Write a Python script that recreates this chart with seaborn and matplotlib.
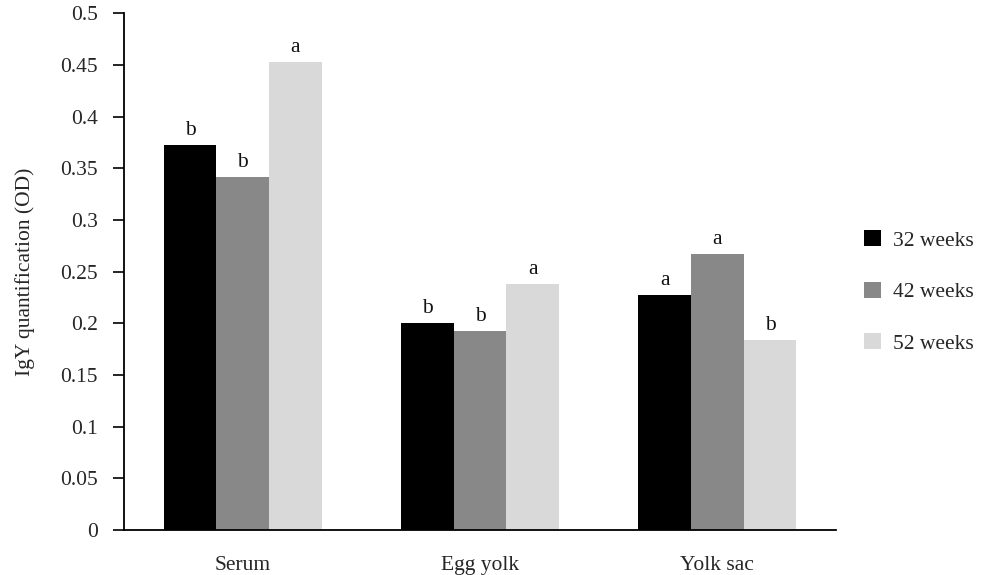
import matplotlib
matplotlib.use("Agg")
import matplotlib.pyplot as plt
import seaborn as sns
import pandas as pd

tissues = ["Serum", "Egg yolk", "Yolk sac"]
ages = ["32 weeks", "42 weeks", "52 weeks"]
values_32 = [0.373, 0.200, 0.227]
values_42 = [0.342, 0.193, 0.267]
values_52 = [0.453, 0.238, 0.184]
letters_32 = ["b", "b", "a"]
letters_42 = ["b", "b", "a"]
letters_52 = ["a", "a", "b"]
colors = ["#000000", "#888888", "#d9d9d9"]
yticks = [0, 0.05, 0.1, 0.15, 0.2, 0.25, 0.3, 0.35, 0.4, 0.45, 0.5]
ytick_labels = ["0", "0.05", "0.1", "0.15", "0.2", "0.25", "0.3", "0.35", "0.4", "0.45", "0.5"]

rows = []
for age, vals in zip(ages, [values_32, values_42, values_52]):
    for t, v in zip(tissues, vals):
        rows.append({"tissue": t, "age": age, "value": v})
df = pd.DataFrame(rows)

sns.set_theme(style="white")
plt.rcParams["font.family"] = ["Liberation Serif", "DejaVu Serif"]
FS = 15.5

fig = plt.figure(figsize=(9.84, 5.75), dpi=100)
ax = fig.add_axes([124 / 984, 1 - 530 / 575, (836 - 124) / 984, (530 - 13.3) / 575])

sns.barplot(data=df, x="tissue", y="value", hue="age", order=tissues, hue_order=ages,
            palette=colors, width=0.665, saturation=1, gap=0, ax=ax, legend=True,
            edgecolor="none", linewidth=0)

ax.set_xlim(-0.5, 2.5)
ax.set_ylim(0, 0.5)
ax.set_yticks(yticks)
ax.set_yticklabels(ytick_labels, fontsize=FS)
ax.tick_params(axis="y", direction="out", length=8, width=1.2, color="black", pad=11, left=True)
ax.tick_params(axis="x", length=0, pad=19, labelsize=FS)
for lab in ax.get_xticklabels():
    lab.set_fontsize(FS)
ax.set_xlabel("")
ax.set_ylabel("IgY quantification (OD)", fontsize=FS, labelpad=18)

for s in ["top", "right"]:
    ax.spines[s].set_visible(False)
for s in ["left", "bottom"]:
    ax.spines[s].set_color("black")
    ax.spines[s].set_linewidth(1.3)

for cont, lets in zip(ax.containers, [letters_32, letters_42, letters_52]):
    for bar, let in zip(cont, lets):
        ax.annotate(let, (bar.get_x() + bar.get_width() / 2, bar.get_height()),
                    xytext=(0, 7.2), textcoords="offset points", ha="center",
                    va="baseline", fontsize=FS, color="#111111")

handles, labels = ax.get_legend_handles_labels()
ax.get_legend().remove()
fig.legend(handles, labels, loc="center left", bbox_to_anchor=(864 / 984, 1 - 292 / 575),
           frameon=False, fontsize=FS, handlelength=0.8, handleheight=0.75,
           handletextpad=0.55, labelspacing=1.45, borderpad=0, borderaxespad=0)

fig.savefig("out.png", dpi=100)
